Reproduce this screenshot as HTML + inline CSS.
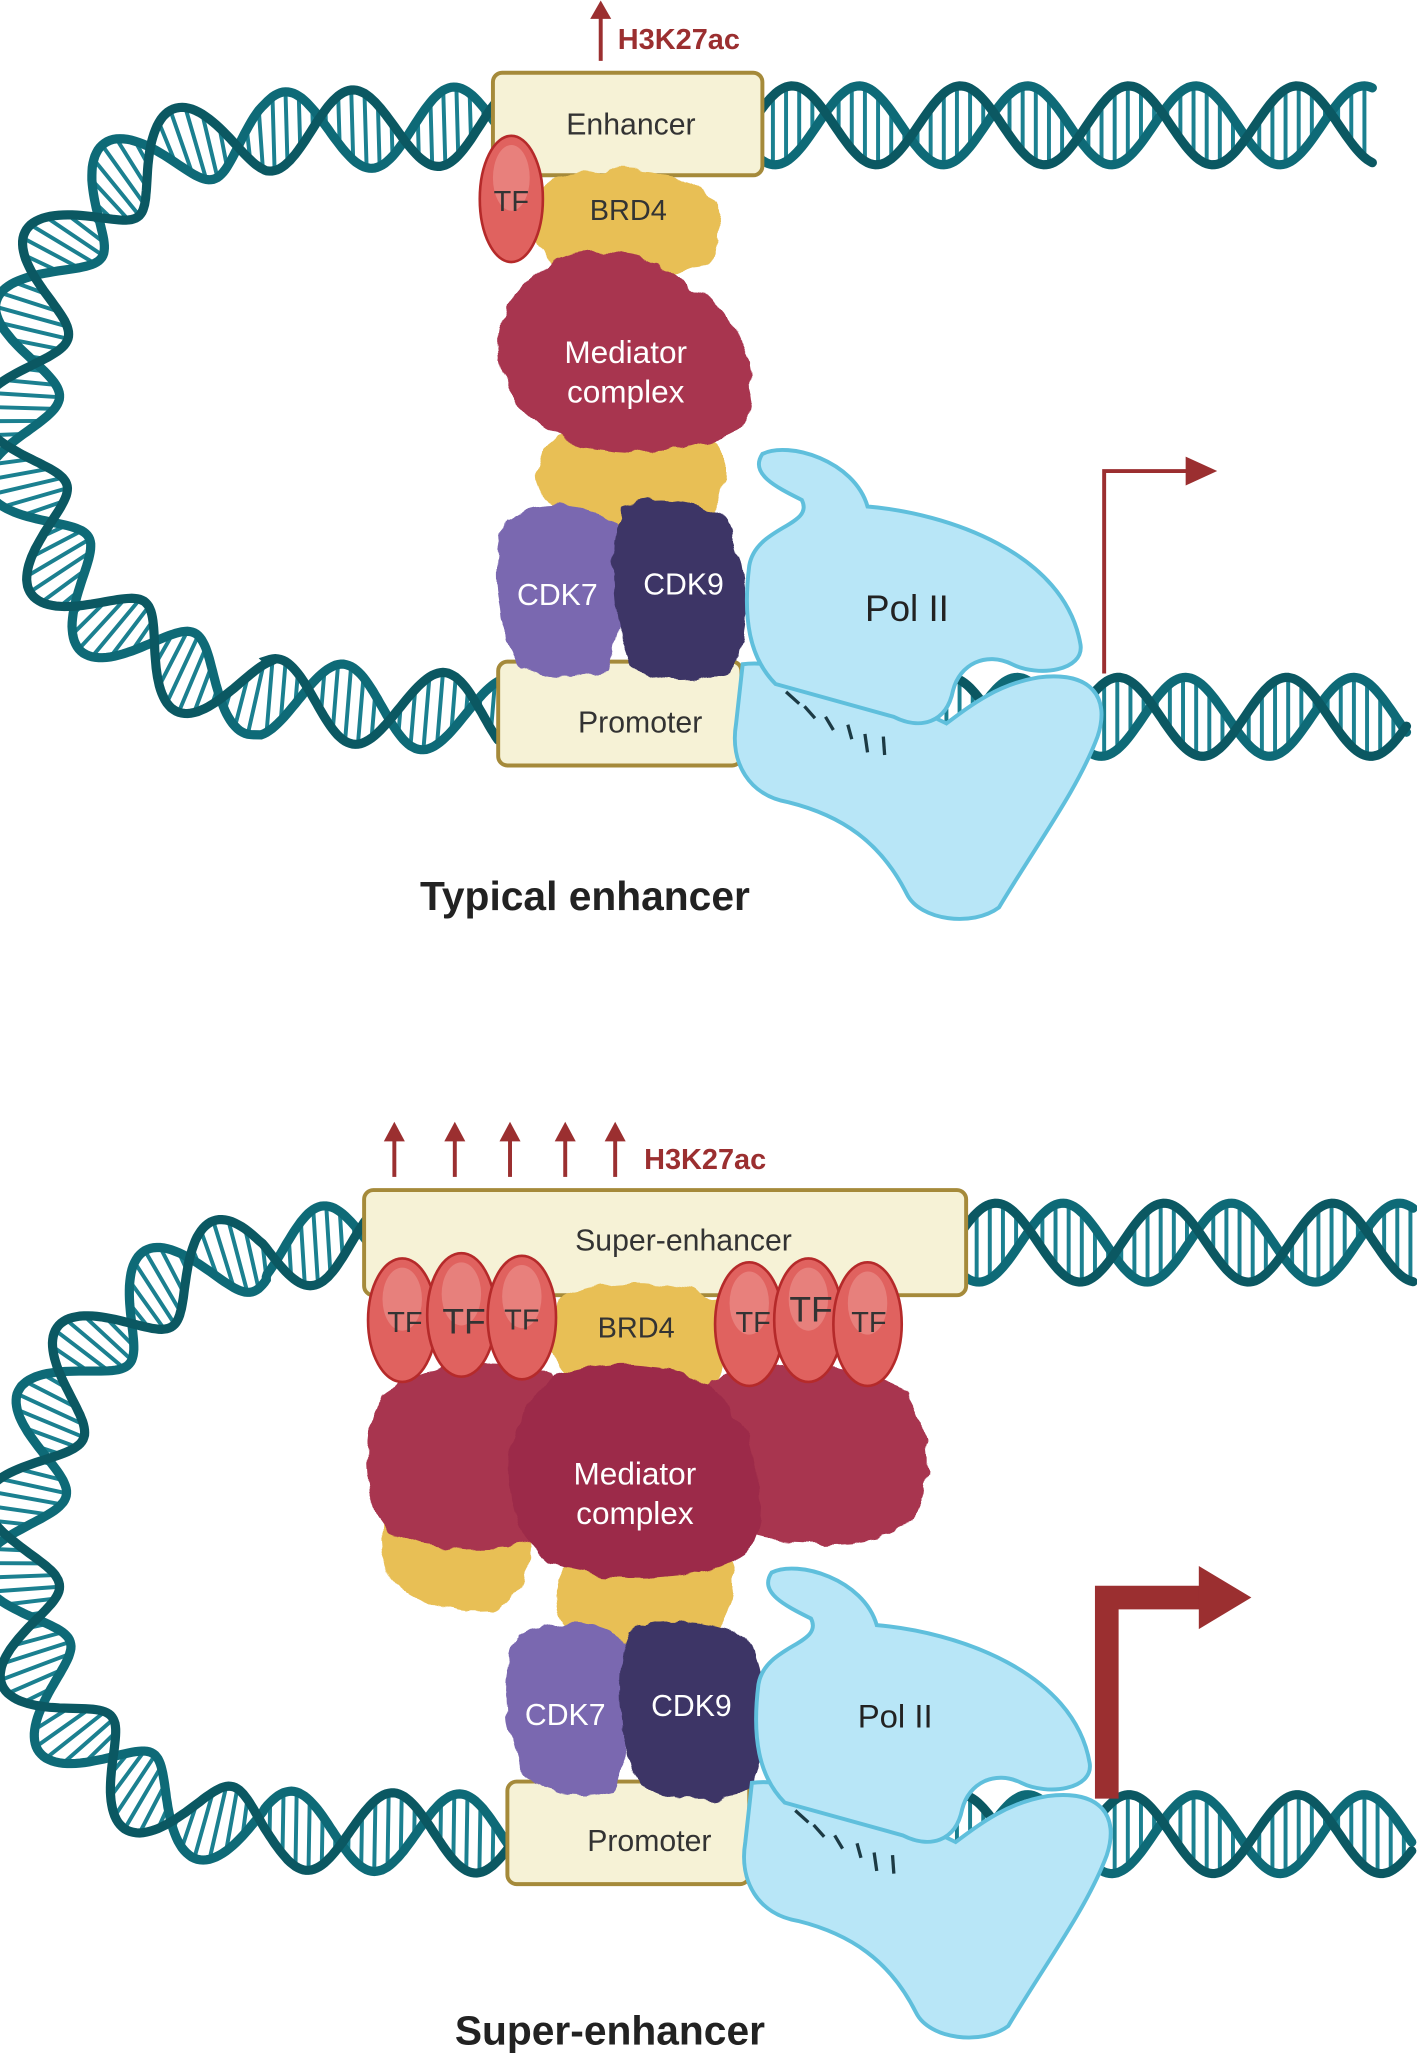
<!DOCTYPE html>
<html><head><meta charset="utf-8"><style>
html,body{margin:0;padding:0;background:#fff}
svg{display:block}
text{font-family:"Liberation Sans",sans-serif}
</style></head><body>
<svg id="s" width="1417" height="2062" viewBox="0 0 1078 1568" xmlns="http://www.w3.org/2000/svg">
<defs>
<filter id="lumpy" x="-10%" y="-10%" width="120%" height="120%">
<feTurbulence type="fractalNoise" baseFrequency="0.06" numOctaves="2" seed="3"/>
<feDisplacementMap in="SourceGraphic" scale="10" xChannelSelector="R" yChannelSelector="G"/>
</filter>
</defs>
<g id="dna"></g>

<!-- TOP -->
<line x1="457" y1="46" x2="457" y2="12" stroke="#9b2f30" stroke-width="3"/>
<path d="M449,14 L457,0 L465,14 Z" fill="#9b2f30"/>
<text x="470" y="37" font-size="22" font-weight="bold" fill="#9b2f30">H3K27ac</text>
<rect x="375" y="55" width="205" height="78" rx="7" fill="#f6f2d6" stroke="#a58a3a" stroke-width="3"/>
<text x="480" y="102" font-size="23" text-anchor="middle" fill="#333">Enhancer</text>
<rect x="379" y="503" width="185" height="79" rx="7" fill="#f6f2d6" stroke="#a58a3a" stroke-width="3"/>
<text x="487" y="557" font-size="23" text-anchor="middle" fill="#333">Promoter</text>

<g filter="url(#lumpy)">
<path d="M415,140 C440,125 500,125 530,140 C555,155 555,190 530,205 C500,215 450,212 420,200 C400,185 400,150 415,140 Z" fill="#e8bf55"/>
<path d="M415,340 C440,320 520,315 545,335 C560,355 550,395 520,405 C480,410 440,400 420,385 C405,370 405,350 415,340 Z" fill="#e8bf55"/>
<path d="M420,200 C450,185 500,190 520,215 C560,235 580,280 570,315 C560,340 500,350 450,340 C400,330 375,290 380,250 C385,225 400,210 420,200 Z" fill="#a8344f"/>
<path d="M385,395 C410,380 450,380 470,400 C478,440 472,490 460,510 C430,520 400,515 390,495 C375,460 375,420 385,395 Z" fill="#7a68b0"/>
<path d="M475,385 C500,375 540,380 555,400 C572,440 572,490 555,510 C530,520 495,520 480,505 C465,470 462,420 475,385 Z" fill="#3d3566"/>
</g>
<ellipse cx="389" cy="151" rx="24" ry="48" fill="#e0625f" stroke="#b52a2a" stroke-width="2"/>
<ellipse cx="389" cy="135" rx="14" ry="25" fill="#eb8d89" opacity="0.7"/>
<text x="389" y="160" font-size="22" text-anchor="middle" fill="#333">TF</text>
<text x="478" y="167" font-size="22" text-anchor="middle" fill="#333">BRD4</text>
<text x="476" y="276" font-size="24" text-anchor="middle" fill="#fff">Mediator</text>
<text x="476" y="306" font-size="24" text-anchor="middle" fill="#fff">complex</text>
<text x="424" y="460" font-size="23" text-anchor="middle" fill="#fff">CDK7</text>
<text x="520" y="452" font-size="23" text-anchor="middle" fill="#fff">CDK9</text>

<g stroke="#5fbfdc" stroke-width="3" fill="#b8e6f7">
<path d="M565,505 C600,500 680,530 720,550 C740,535 760,520 790,515 C830,510 845,530 835,560 C820,600 790,640 760,690 C740,705 700,700 690,680 C670,640 640,620 600,610 C570,605 555,580 560,550 Z"/>
<path d="M580,345 C600,335 650,350 660,385 C720,390 810,420 822,490 C825,510 790,515 770,505 C750,495 730,505 725,525 C720,550 700,555 680,545 L590,520 C570,500 565,470 570,430 C575,400 620,400 610,380 C590,370 570,360 580,345 Z"/>
</g>
<g stroke="#1c3a44" stroke-width="2.5">
<line x1="608" y1="535" x2="598" y2="526"/><line x1="620" y1="546" x2="612" y2="537"/><line x1="634" y1="555" x2="628" y2="545"/><line x1="648" y1="562" x2="645" y2="551"/><line x1="660" y1="572" x2="658" y2="558"/><line x1="673" y1="574" x2="672" y2="560"/>
</g>
<text x="690" y="472" font-size="28" text-anchor="middle" fill="#222">Pol II</text>
<path d="M840,512 L840,358 L905,358" fill="none" stroke="#9b2f30" stroke-width="3"/>
<path d="M902,347 L926,358 L902,369 Z" fill="#9b2f30"/>
<text x="445" y="692" font-size="31" font-weight="bold" text-anchor="middle" fill="#222">Typical enhancer</text>

<!-- BOTTOM -->
<g stroke="#9b2f30" stroke-width="3">
<line x1="300" y1="895" x2="300" y2="866"/><line x1="346" y1="895" x2="346" y2="866"/><line x1="388" y1="895" x2="388" y2="866"/><line x1="430" y1="895" x2="430" y2="866"/><line x1="468" y1="895" x2="468" y2="866"/>
</g>
<g fill="#9b2f30">
<path d="M292,868 L300,853 L308,868Z"/><path d="M338,868 L346,853 L354,868Z"/><path d="M380,868 L388,853 L396,868Z"/><path d="M422,868 L430,853 L438,868Z"/><path d="M460,868 L468,853 L476,868Z"/>
</g>
<text x="490" y="889" font-size="22" font-weight="bold" fill="#9b2f30">H3K27ac</text>
<rect x="277" y="905" width="458" height="80" rx="7" fill="#f6f2d6" stroke="#a58a3a" stroke-width="3"/>
<text x="520" y="951" font-size="23" text-anchor="middle" fill="#333">Super-enhancer</text>
<rect x="386" y="1355" width="184" height="78" rx="7" fill="#f6f2d6" stroke="#a58a3a" stroke-width="3"/>
<text x="494" y="1408" font-size="23" text-anchor="middle" fill="#333">Promoter</text>

<g filter="url(#lumpy)">
<path d="M430,985 C460,970 520,972 545,990 C560,1010 555,1045 535,1058 C500,1065 450,1060 430,1045 C415,1030 415,1000 430,985 Z" fill="#e8bf55"/>
<path d="M300,1140 C330,1125 380,1125 400,1145 C410,1180 400,1215 375,1225 C340,1228 305,1215 295,1195 C288,1170 290,1150 300,1140 Z" fill="#e8bf55"/>
<path d="M430,1190 C460,1170 530,1168 555,1185 C565,1210 555,1240 530,1250 C490,1255 450,1248 430,1235 C418,1220 420,1200 430,1190 Z" fill="#e8bf55"/>
<path d="M290,1060 C320,1035 390,1030 420,1045 C440,1070 440,1140 420,1170 C380,1185 320,1180 295,1165 C275,1140 275,1085 290,1060 Z" fill="#a8344f"/>
<path d="M540,1050 C580,1030 650,1035 690,1060 C710,1090 710,1140 690,1160 C650,1180 580,1175 550,1160 C525,1130 525,1075 540,1050 Z" fill="#a8344f"/>
<path d="M420,1050 C460,1030 520,1035 545,1060 C580,1085 585,1150 570,1180 C540,1205 460,1205 420,1190 C385,1170 380,1110 395,1080 C400,1065 410,1055 420,1050 Z" fill="#9c2c48"/>
<path d="M393,1245 C420,1230 460,1232 476,1250 C482,1290 480,1340 468,1362 C440,1370 405,1365 395,1345 C382,1310 382,1270 393,1245 Z" fill="#7a68b0"/>
<path d="M478,1238 C505,1228 555,1232 572,1252 C585,1290 585,1340 570,1362 C540,1372 500,1370 485,1355 C470,1320 466,1270 478,1238 Z" fill="#3d3566"/>
</g>
<g stroke="#b52a2a" stroke-width="2" fill="#e0625f">
<ellipse cx="306" cy="1004" rx="26" ry="47"/><ellipse cx="351" cy="1000" rx="26" ry="47"/><ellipse cx="397" cy="1002" rx="26" ry="47"/>
<ellipse cx="570" cy="1007" rx="26" ry="47"/><ellipse cx="615" cy="1004" rx="26" ry="47"/><ellipse cx="660" cy="1007" rx="26" ry="47"/>
</g>
<g fill="#eb8d89" opacity="0.7">
<ellipse cx="306" cy="988" rx="15" ry="24"/><ellipse cx="351" cy="984" rx="15" ry="24"/><ellipse cx="397" cy="986" rx="15" ry="24"/>
<ellipse cx="570" cy="991" rx="15" ry="24"/><ellipse cx="615" cy="988" rx="15" ry="24"/><ellipse cx="660" cy="991" rx="15" ry="24"/>
</g>
<g font-size="22" text-anchor="middle" fill="#333">
<text x="308" y="1013">TF</text><text x="353" y="1014" font-size="27">TF</text><text x="397" y="1011">TF</text>
<text x="573" y="1013">TF</text><text x="617" y="1005" font-size="27">TF</text><text x="661" y="1013">TF</text>
<text x="484" y="1017">BRD4</text>
</g>
<text x="483" y="1129" font-size="24" text-anchor="middle" fill="#fff">Mediator</text>
<text x="483" y="1159" font-size="24" text-anchor="middle" fill="#fff">complex</text>
<text x="430" y="1312" font-size="23" text-anchor="middle" fill="#fff">CDK7</text>
<text x="526" y="1305" font-size="23" text-anchor="middle" fill="#fff">CDK9</text>

<g transform="translate(7,851)" stroke="#5fbfdc" stroke-width="3" fill="#b8e6f7">
<path d="M565,505 C600,500 680,530 720,550 C740,535 760,520 790,515 C830,510 845,530 835,560 C820,600 790,640 760,690 C740,705 700,700 690,680 C670,640 640,620 600,610 C570,605 555,580 560,550 Z"/>
<path d="M580,345 C600,335 650,350 660,385 C720,390 810,420 822,490 C825,510 790,515 770,505 C750,495 730,505 725,525 C720,550 700,555 680,545 L590,520 C570,500 565,470 570,430 C575,400 620,400 610,380 C590,370 570,360 580,345 Z"/>
<g stroke="#1c3a44" stroke-width="2.5">
<line x1="608" y1="535" x2="598" y2="526"/><line x1="620" y1="546" x2="612" y2="537"/><line x1="634" y1="555" x2="628" y2="545"/><line x1="648" y1="562" x2="645" y2="551"/><line x1="660" y1="572" x2="658" y2="558"/><line x1="673" y1="574" x2="672" y2="560"/>
</g>
</g>
<text x="681" y="1314" font-size="25" text-anchor="middle" fill="#222">Pol II</text>
<path d="M842,1368 L842,1215 L915,1215" fill="none" stroke="#9b2f30" stroke-width="18"/>
<path d="M912,1191 L952,1215 L912,1239 Z" fill="#9b2f30"/>
<text x="464" y="1555" font-size="31" font-weight="bold" text-anchor="middle" fill="#222">Super-enhancer</text>

<script>
(function(){
var NS="http://www.w3.org/2000/svg",g=document.getElementById("dna");
function helix(d,amp,per,ph){
 var p=document.createElementNS(NS,"path");p.setAttribute("d",d);p.setAttribute("fill","none");g.appendChild(p);
 var L=p.getTotalLength(),a=[],b=[],r="";
 for(var s=0;s<=L;s+=2){
  var q=p.getPointAtLength(s),q2=p.getPointAtLength(Math.min(L,s+1)),q0=p.getPointAtLength(Math.max(0,s-1));
  var tx=q2.x-q0.x,ty=q2.y-q0.y,n=Math.hypot(tx,ty)||1,nx=-ty/n,ny=tx/n;
  var t=2*Math.PI*s/per+ph,o1=amp*Math.sin(t),o2=amp*Math.sin(t+2.5);
  var A=[q.x+nx*o1,q.y+ny*o1],B=[q.x+nx*o2,q.y+ny*o2];a.push(A);b.push(B);
  if(Math.round(s)%10==0) r+="M"+A[0].toFixed(1)+","+A[1].toFixed(1)+"L"+B[0].toFixed(1)+","+B[1].toFixed(1);
 }
 g.removeChild(p);
 function mk(dd,c,w){var e=document.createElementNS(NS,"path");e.setAttribute("d",dd);e.setAttribute("fill","none");e.setAttribute("stroke",c);e.setAttribute("stroke-width",w);e.setAttribute("stroke-linecap","round");g.appendChild(e);}
 mk(r,"#1b8090",3);
 mk("M"+a.map(function(v){return v[0].toFixed(1)+","+v[1].toFixed(1)}).join("L"),"#0e6a77",7);
 mk("M"+b.map(function(v){return v[0].toFixed(1)+","+v[1].toFixed(1)}).join("L"),"#0b5862",7);
}
var P=128;
helix("M378,95 L200,100 C40,110 12,250 15,330 C18,420 80,505 200,530 L382,545",30,P,0);
helix("M578,95 L1045,95",30,P,1);
helix("M560,545 L1070,545",30,P,0.5);
helix("M280,945 L200,950 C40,980 12,1130 15,1200 C18,1300 90,1385 200,1392 L388,1395",30,P,0);
helix("M733,945 L1075,945",30,P,1);
helix("M568,1395 L1075,1395",30,P,0.5);
})();
</script>
</svg>
</body></html>
